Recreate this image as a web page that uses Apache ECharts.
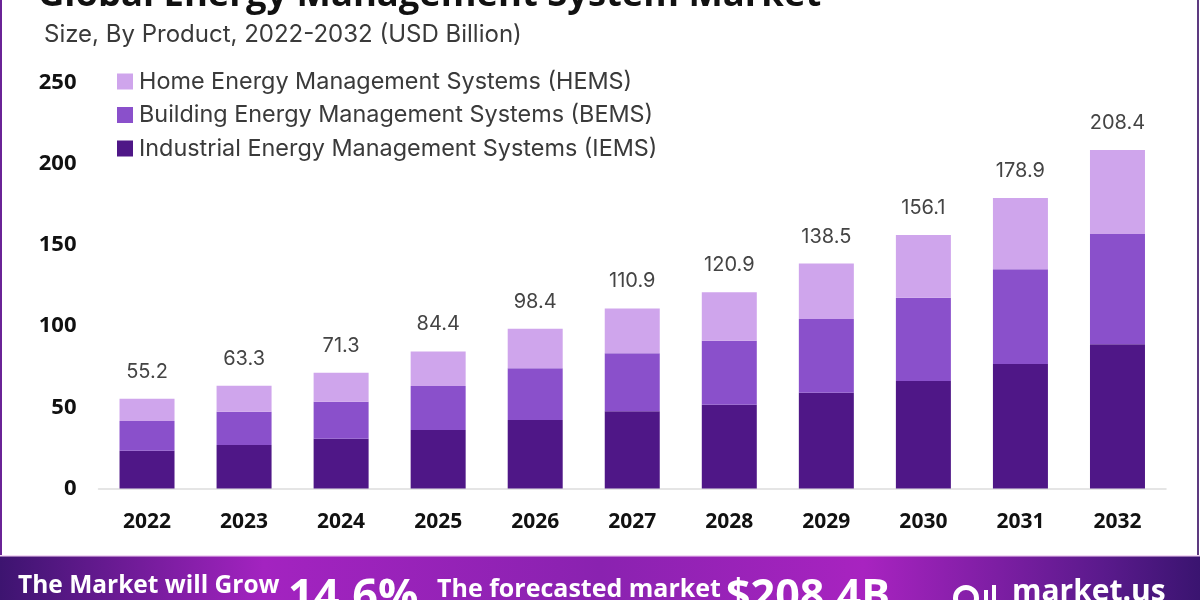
<!DOCTYPE html>
<html>
<head>
<meta charset="utf-8">
<style>
html, body { margin: 0; padding: 0; background: #fff; }
#chart { width: 1200px; height: 600px; }
</style>
<script src="https://cdn.jsdelivr.net/npm/echarts@6/dist/echarts.min.js"></script>
</head>
<body>
<div id="chart"></div>
<script>
var years = ['2022', '2023', '2024', '2025', '2026', '2027', '2028', '2029', '2030', '2031', '2032'];
var iems = [23.3, 26.8, 30.7, 36.0, 42.2, 47.5, 51.6, 59.0, 66.2, 76.7, 88.8];
var bems = [18.3, 20.5, 22.7, 27.1, 31.8, 35.8, 39.4, 45.4, 51.3, 58.3, 67.9];
var hems = [13.6, 16.0, 17.9, 21.3, 24.4, 27.6, 29.9, 34.1, 38.6, 43.9, 51.7];
var totals = [55.2, 63.3, 71.3, 84.4, 98.4, 110.9, 120.9, 138.5, 156.1, 178.9, 208.4];

var chart = echarts.init(document.getElementById('chart'));

var bodyFont = 'Inter, "Noto Sans", sans-serif';
var boldFont = '"Open Sans", "Noto Sans", sans-serif';

chart.setOption({
	animation: false,
	backgroundColor: '#ffffff',
	grid: { left: 98.5, right: 34, top: 82.5, bottom: 111.5 },
	legend: {
		orient: 'vertical',
		left: 112,
		top: 65,
		itemWidth: 16,
		itemHeight: 16,
		itemGap: 10.5,
		icon: 'rect',
		selectedMode: false,
		data: ['Home Energy Management Systems (HEMS)', 'Building Energy Management Systems (BEMS)', 'Industrial Energy Management Systems (IEMS)'],
		textStyle: { fontFamily: bodyFont, fontSize: 23.4, color: '#3a3a3a', padding: [0, 0, 0, 1] }
	},
	xAxis: {
		type: 'category',
		data: years,
		axisLine: { lineStyle: { color: '#dddddd', width: 1.5 } },
		axisTick: { show: false },
		axisLabel: { margin: 23, fontFamily: boldFont, fontWeight: 'bold', fontSize: 21, color: '#111111' }
	},
	yAxis: {
		type: 'value',
		min: 0,
		max: 250,
		interval: 50,
		axisLine: { show: false },
		axisTick: { show: false },
		splitLine: { show: false },
		axisLabel: {
			margin: 22,
			padding: [5, 0, 0, 0],
			fontFamily: boldFont,
			fontWeight: 'bold',
			fontSize: 22,
			color: '#111111'
		}
	},
	series: [
		{
			name: 'Industrial Energy Management Systems (IEMS)',
			type: 'bar', stack: 'size', barWidth: 55,
			itemStyle: { color: '#4f1787' },
			data: iems
		},
		{
			name: 'Building Energy Management Systems (BEMS)',
			type: 'bar', stack: 'size', barWidth: 55,
			itemStyle: { color: '#8a50cb' },
			data: bems
		},
		{
			name: 'Home Energy Management Systems (HEMS)',
			type: 'bar', stack: 'size', barWidth: 55,
			itemStyle: { color: '#cfa5ec' },
			label: {
				show: true,
				position: 'top',
				distance: 17,
				fontFamily: bodyFont,
				fontSize: 20,
				color: '#444444',
				formatter: function (p) { return totals[p.dataIndex].toFixed(1); }
			},
			data: hems
		}
	],
	graphic: [
		// purple frame at the sides
		{ type: 'rect', shape: { x: 0, y: 0, width: 2, height: 556 }, style: { fill: '#6a2396' } },
		{ type: 'rect', shape: { x: 1197, y: 0, width: 2, height: 556 }, style: { fill: '#5d3a80' } },
		// footer band
		{
			type: 'rect',
			shape: { x: 0, y: 556, width: 1200, height: 44 },
			style: {
				fill: new echarts.graphic.LinearGradient(0, 0, 1, 0, [
					{ offset: 0, color: '#3d1470' },
					{ offset: 0.22, color: '#a323c0' },
					{ offset: 0.5, color: '#8a22b0' },
					{ offset: 0.72, color: '#a823c0' },
					{ offset: 0.92, color: '#5a1a8c' },
					{ offset: 1, color: '#3a1470' }
				])
			}
		},
		{ type: 'rect', shape: { x: 0, y: 555, width: 1200, height: 1.5 }, style: { fill: '#f3d8f5' } },
		// title runs off the top of the picture
		{ type: 'text', x: 38, y: -22, style: { text: 'Global Energy Management System Market', fontFamily: boldFont, fontWeight: 'bold', fontSize: 36.4, fill: '#111111' } },
		{ type: 'text', x: 44, y: 23, style: { text: 'Size, By Product, 2022-2032 (USD Billion)', fontFamily: bodyFont, fontSize: 24, fill: '#3a3a3a' } },
		// footer texts
		{ type: 'text', x: 18, y: 574, style: { text: 'The Market will Grow', fontFamily: boldFont, fontWeight: 'bold', fontSize: 24.5, fill: '#ffffff' } },
		{ type: 'text', x: 288, y: 576, style: { text: '14.6%', fontFamily: boldFont, fontWeight: 'bold', fontSize: 45, fill: '#ffffff' } },
		{ type: 'text', x: 437, y: 577, style: { text: 'The forecasted market', fontFamily: boldFont, fontWeight: 'bold', fontSize: 25, fill: '#ffffff' } },
		{ type: 'text', x: 726, y: 576, style: { text: '$208.4B', fontFamily: boldFont, fontWeight: 'bold', fontSize: 43, fill: '#ffffff' } },
		{ type: 'text', x: 1012, y: 577, style: { text: 'market.us', fontFamily: boldFont, fontWeight: 'bold', fontSize: 30, fill: '#ffffff' } },
		// market.us logo
		{ type: 'ring', shape: { cx: 966, cy: 598, r: 13, r0: 8 }, style: { fill: '#ffffff' } },
		{ type: 'rect', shape: { x: 984, y: 590, width: 4, height: 10 }, style: { fill: '#ffffff' } },
		{ type: 'rect', shape: { x: 992, y: 585, width: 4, height: 15 }, style: { fill: '#ffffff' } }
	]
});
</script>
</body>
</html>
